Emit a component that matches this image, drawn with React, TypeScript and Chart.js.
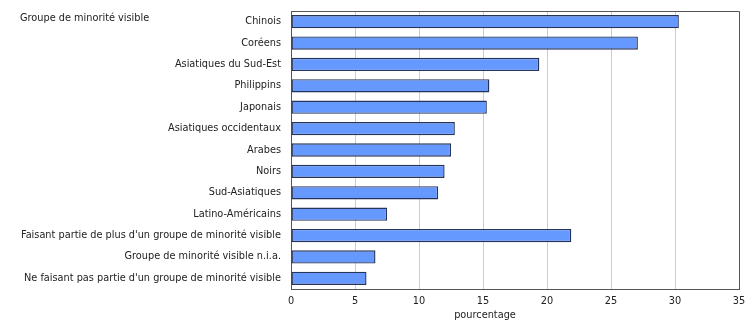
import React, { useEffect, useRef } from "react";
import { Chart, registerables } from "chart.js";

Chart.register(...registerables);

const categories = [
  "Chinois",
  "Coréens",
  "Asiatiques du Sud-Est",
  "Philippins",
  "Japonais",
  "Asiatiques occidentaux",
  "Arabes",
  "Noirs",
  "Sud-Asiatiques",
  "Latino-Américains",
  "Faisant partie de plus d'un groupe de minorité visible",
  "Groupe de minorité visible n.i.a.",
  "Ne faisant pas partie d'un groupe de minorité visible",
];
const values = [30.3, 27.1, 19.4, 15.5, 15.3, 12.8, 12.5, 12.0, 11.5, 7.5, 21.9, 6.6, 5.9];
const xTicks = [0, 5, 10, 15, 20, 25, 30, 35];
const headerText = "Groupe de minorité visible";
const xTitle = "pourcentage";

const FONT = "'DejaVu Sans', Verdana, sans-serif";
const FSIZE = 9.75;

export default function App() {
  const ref = useRef<HTMLCanvasElement | null>(null);
  useEffect(() => {
    if (!ref.current) return;
    const framePlugin = {
      id: "frame",
      beforeDatasetsDraw(chart: any) {
        const { ctx, chartArea } = chart;
        ctx.save();
        ctx.strokeStyle = "#555555";
        ctx.lineWidth = 1;
        ctx.beginPath();
        ctx.moveTo(chartArea.left, chartArea.top + 0.5);
        ctx.lineTo(chartArea.right + 0.5, chartArea.top + 0.5);
        ctx.lineTo(chartArea.right + 0.5, chartArea.bottom);
        ctx.stroke();
        ctx.restore();
      },
      afterDraw(chart: any) {
        const { ctx } = chart;
        ctx.save();
        ctx.fillStyle = "#222222";
        ctx.font = `${FSIZE}px ${FONT}`;
        ctx.textAlign = "left";
        ctx.textBaseline = "middle";
        ctx.fillText(headerText, 20, 18);
        ctx.textAlign = "center";
        ctx.fillText(xTitle, 485, 315);
        ctx.restore();
      },
    };
    const chart = new Chart(ref.current, {
      type: "bar",
      data: {
        labels: categories,
        datasets: [
          {
            data: values,
            backgroundColor: "#6699FF",
            borderColor: "#26335A",
            borderWidth: 1.4,
            borderSkipped: false,
            categoryPercentage: 1,
            barPercentage: 0.62,
          },
        ],
      },
      options: {
        indexAxis: "y",
        animation: false,
        responsive: false,
        maintainAspectRatio: false,
        layout: { padding: { top: 11, right: 16, left: 0, bottom: 0 } },
        plugins: {
          legend: { display: false },
          tooltip: { enabled: false },
        },
        scales: {
          x: {
            min: 0,
            max: 35,
            afterBuildTicks(scale: any) {
              scale.ticks = xTicks.map((v) => ({ value: v }));
            },
            afterFit(scale: any) {
              scale.height = 31;
            },
            grid: {
              color: (c: any) => (c.tick && c.tick.value > 0 && c.tick.value < 35 ? "#cccccc" : "rgba(0,0,0,0)"),
              drawTicks: false,
              lineWidth: 1,
            },
            border: { display: true, color: "#555555", width: 1 },
            ticks: {
              padding: 7,
              color: "#222222",
              font: { family: FONT, size: FSIZE },
              maxRotation: 0,
            },
          },
          y: {
            afterFit(scale: any) {
              scale.width = 291;
              scale.paddingTop = 0;
              scale.paddingBottom = 0;
            },
            grid: { display: false, drawTicks: false },
            border: { display: true, color: "#555555", width: 1 },
            ticks: {
              padding: 10,
              color: "#222222",
              font: { family: FONT, size: FSIZE },
              autoSkip: false,
            },
          },
        },
      },
      plugins: [framePlugin],
    });
    return () => chart.destroy();
  }, []);
  return (
    <div style={{ position: "fixed", left: 0, top: 0, width: 755, height: 320, background: "#ffffff" }}>
      <canvas ref={ref} width={755} height={320} style={{ width: 755, height: 320 }} />
    </div>
  );
}
